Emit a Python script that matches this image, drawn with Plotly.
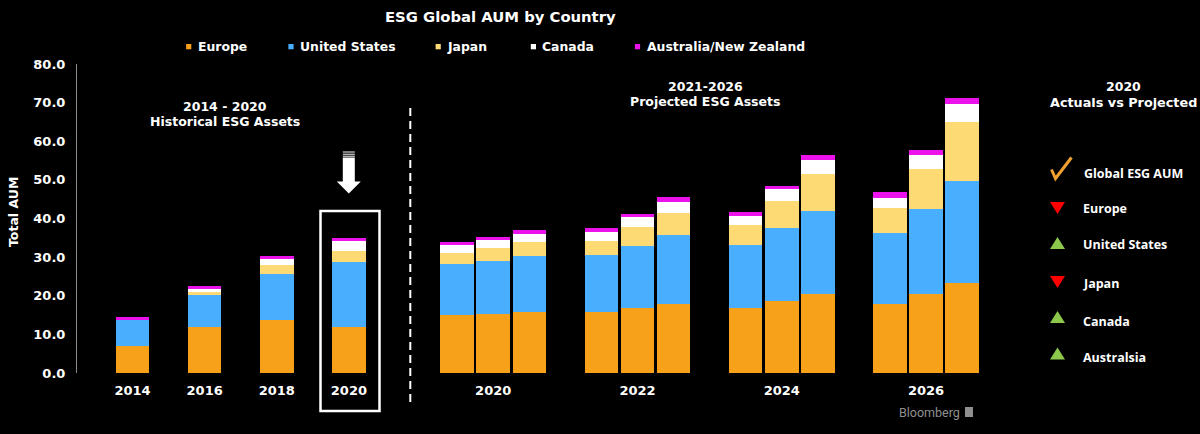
import plotly.graph_objects as go

# ---------------- data ----------------
hist_years = ["2014", "2016", "2018", "2020"]
proj_years = ["2020", "2022", "2024", "2026"]

series_names = ["Europe", "United States", "Japan", "Canada", "Australia/New Zealand"]
series_colors = ["#F7A11A", "#4AAEFF", "#FDDA74", "#FFFFFF", "#EC12EC"]

# historical (2014, 2016, 2018, 2020), USD trillions
europe_hist = [7.1, 11.8, 13.8, 11.8]
us_hist = [6.7, 8.5, 11.9, 17.0]
japan_hist = [0.0, 0.7, 2.35, 2.8]
canada_hist = [0.0, 0.8, 1.45, 2.5]
aus_hist = [0.7, 0.6, 0.8, 0.9]

# projected: 3 scenarios per year (2020, 2022, 2024, 2026)
europe_proj = [14.9, 15.4, 15.9, 15.9, 16.9, 17.95, 16.8, 18.6, 20.5, 17.95, 20.5, 23.3]
us_proj = [13.2, 13.7, 14.5, 14.7, 16.1, 17.8, 16.4, 19.0, 21.4, 18.35, 22.0, 26.3]
japan_proj = [2.85, 3.3, 3.6, 3.6, 4.7, 5.6, 5.0, 6.9, 9.5, 6.4, 10.2, 15.3]
canada_proj = [2.15, 2.0, 2.0, 2.4, 2.7, 2.85, 2.4, 3.1, 3.7, 2.6, 3.8, 4.7]
aus_proj = [0.7, 0.8, 1.0, 0.95, 0.85, 1.3, 1.0, 0.9, 1.4, 1.5, 1.3, 1.7]

status_labels = ["Europe", "United States", "Japan", "Canada", "Australsia"]
status_up = [False, True, False, True, True]

# ---------------- layout helpers ----------------
W_FIG, H_FIG = 1200, 434
L, R, T, B = 77, 200, 64, 61
PW, PH = W_FIG - L - R, H_FIG - T - B


def px(xp):
    return (xp - L) / PW


def py(yp):
    return (T + PH - yp) / PH


# slot positions on a shared linear axis
hist_x = [2 * i for i in range(len(hist_years))]
proj_x = [9 + 4 * g + k for g in range(len(proj_years)) for k in range(3)]
all_x = hist_x + proj_x

values = [
    europe_hist + europe_proj,
    us_hist + us_proj,
    japan_hist + japan_proj,
    canada_hist + canada_proj,
    aus_hist + aus_proj,
]

fig = go.Figure()
for name, col, vals in zip(series_names, series_colors, values):
    fig.add_trace(go.Bar(
        x=all_x, y=vals, name=name, width=0.93,
        marker=dict(color=col, line=dict(width=0)),
        showlegend=False,
    ))

tickvals = hist_x + [9 + 4 * g + 1 for g in range(len(proj_years))]
ticktext = hist_years + proj_years

unit = 36.07
x_min = (L - 132.5) / unit
x_max = x_min + PW / unit

AX_FONT = dict(family="DejaVu Sans", size=13, color="white", weight="bold")

fig.update_layout(
    width=W_FIG, height=H_FIG,
    paper_bgcolor="black", plot_bgcolor="black",
    margin=dict(l=L, r=R, t=T, b=B, autoexpand=False),
    barmode="stack", bargap=0,
    xaxis=dict(
        range=[x_min, x_max], tickvals=tickvals, ticktext=ticktext,
        showgrid=False, zeroline=False, showline=False,
        ticks="outside", ticklen=5, tickcolor="rgba(0,0,0,0)",
        tickfont=AX_FONT,
    ),
    yaxis=dict(
        range=[0, 80], tickvals=list(range(0, 81, 10)), tickformat=".1f",
        showgrid=False, zeroline=False, showline=True,
        linecolor="#8a8a8a", linewidth=1,
        ticks="outside", ticklen=8, tickcolor="rgba(0,0,0,0)",
        tickfont=AX_FONT,
    ),
    showlegend=False,
)

ann = []
shapes = []


def text(x, y, s, size=13, family="DejaVu Sans", color="white", anchor="center", weight="bold", angle=0):
    ann.append(dict(
        x=px(x), y=py(y), xref="paper", yref="paper", text=s, showarrow=False,
        xanchor=anchor, yanchor="middle", textangle=angle,
        font=dict(family=family, size=size, color=color, weight=weight),
    ))


# title
text(500.5, 16, "ESG Global AUM by Country", size=14.8)

# legend (squares + labels)
leg_sq_x = [188.7, 291.0, 438.2, 533.4, 637.5]
for name, col, sx in zip(series_names, series_colors, leg_sq_x):
    shapes.append(dict(type="rect", xref="paper", yref="paper",
                       x0=px(sx - 2.6), x1=px(sx + 2.6), y0=py(49.3), y1=py(44.0),
                       fillcolor=col, line=dict(width=0)))
    text(sx + 7, 46.7, name, size=12.4, anchor="left")

# y axis title
text(13, 212, "Total AUM", size=12.5, angle=-90)

# section headings
text(225, 106, "2014 - 2020", size=12.5)
text(225, 121, "Historical ESG Assets", size=12.5)
text(705, 86, "2021-2026", size=12.5)
text(705, 101, "Projected ESG Assets", size=12.5)
text(1123, 86, "2020", size=12.5)
text(1123, 102, "Actuals vs Projected", size=12.8)

# dashed separator
shapes.append(dict(type="line", xref="paper", yref="paper",
                   x0=px(410.3), x1=px(410.3), y0=py(108), y1=py(406),
                   line=dict(color="white", width=2, dash="8px,5px")))

# highlight box around 2020 historical bar
shapes.append(dict(type="rect", xref="paper", yref="paper",
                   x0=px(320.5), x1=px(379.5), y0=py(411), y1=py(211),
                   line=dict(color="white", width=2.5), fillcolor="rgba(0,0,0,0)"))

# down arrow
ax_c = 348.8
shapes.append(dict(type="path", xref="paper", yref="paper",
                   path=(f"M {px(ax_c-6)},{py(157.5)} L {px(ax_c+6)},{py(157.5)} "
                         f"L {px(ax_c+6)},{py(181.5)} L {px(ax_c+12)},{py(181.5)} "
                         f"L {px(ax_c)},{py(193.5)} L {px(ax_c-12)},{py(181.5)} "
                         f"L {px(ax_c-6)},{py(181.5)} Z"),
                   fillcolor="white", line=dict(width=0)))
for sy in (151.5, 153.7, 155.7):
    shapes.append(dict(type="rect", xref="paper", yref="paper",
                       x0=px(ax_c - 6), x1=px(ax_c + 6), y0=py(sy + 1), y1=py(sy),
                       fillcolor="white", line=dict(width=0)))

# right panel: check mark + Global ESG AUM
shapes.append(dict(type="path", xref="paper", yref="paper",
                   path=f"M {px(1051.5)},{py(169.5)} L {px(1055.5)},{py(178.5)} L {px(1071.5)},{py(157.5)}",
                   line=dict(color="#F0A030", width=3)))
text(1081.5, 173, "Global ESG AUM", size=12.5, family="Open Sans", anchor="left")

status_y = [208, 243, 282, 317, 353.5]
text_y = [208.3, 244.3, 283.3, 321.7, 357.7]
for lab, up, yc, ty in zip(status_labels, status_up, status_y, text_y):
    if up:
        path = f"M {px(1050)},{py(yc+6)} L {px(1065)},{py(yc+6)} L {px(1057.5)},{py(yc-6)} Z"
        col = "#8CC84B"
    else:
        path = f"M {px(1050)},{py(yc-6)} L {px(1065)},{py(yc-6)} L {px(1057.5)},{py(yc+6)} Z"
        col = "#FF0000"
    shapes.append(dict(type="path", xref="paper", yref="paper", path=path,
                       fillcolor=col, line=dict(width=0)))
    text(1081, ty, lab, size=12.5, family="Open Sans", anchor="left")

# Bloomberg credit
text(929, 412, "Bloomberg", size=12.5, family="Roboto", color="#8f8f8f", weight="normal")
shapes.append(dict(type="rect", xref="paper", yref="paper",
                   x0=px(965), x1=px(973), y0=py(417), y1=py(407),
                   fillcolor="#8f8f8f", line=dict(width=0)))

fig.update_layout(annotations=ann, shapes=shapes)
fig.write_html(
    "out.html",
    config={"displayModeBar": False},
    post_script="document.body.style.margin='0';document.body.style.padding='0';"
                "document.body.style.background='black';",
)
